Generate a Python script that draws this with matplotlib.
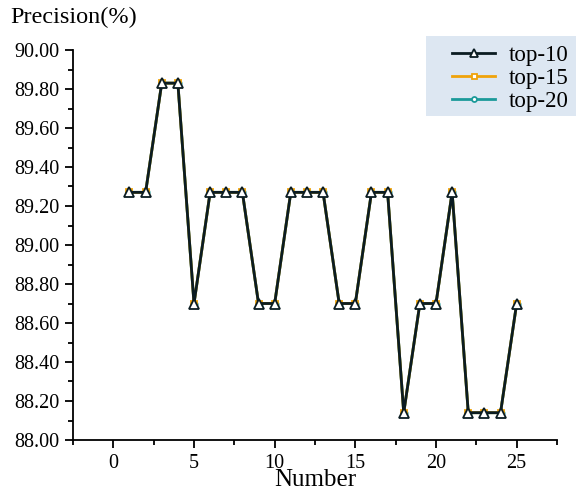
import matplotlib
matplotlib.use('Agg')
import matplotlib.pyplot as plt
from matplotlib.patches import Rectangle
from matplotlib.ticker import MultipleLocator, FormatStrFormatter
import numpy as np

# precision of each run for the three top-k settings
number: list = list(range(1, 26))
top10: list = [89.27, 89.27, 89.83, 89.83, 88.70, 89.27, 89.27, 89.27, 88.70, 88.70,
               89.27, 89.27, 89.27, 88.70, 88.70, 89.27, 89.27, 88.14, 88.70, 88.70,
               89.27, 88.14, 88.14, 88.14, 88.70]
top15: list = list(top10)
top20: list = list(top10)

plt.rcParams['font.family'] = ['Liberation Serif', 'DejaVu Serif']

W: float = 576.0
H: float = 493.0
fig = plt.figure(figsize = (5.76, 4.93), dpi = 100)
ax = fig.add_axes([73 / W, 1 - 440 / H, 484 / W, 390 / H])

ax.plot(number, top10, color = '#0b1c22', lw = 2.0, marker = '^', ms = 7,
        mfc = 'white', mec = '#0b1c22', mew = 1.3, label = 'top-10', zorder = 5)
ax.plot(number, top15, color = '#f0a30a', lw = 2.0, marker = 's', ms = 4.5,
        mfc = 'white', mec = '#f0a30a', mew = 1.3, label = 'top-15', zorder = 4)
ax.plot(number, top20, color = '#1b9a9a', lw = 2.0, marker = 'o', ms = 4.5,
        mfc = 'white', mec = '#1b9a9a', mew = 1.3, label = 'top-20', zorder = 3)

ax.set_xlim(-2.5, 27.5)
ax.set_ylim(88.0, 90.0)
ax.xaxis.set_major_locator(MultipleLocator(5))
ax.xaxis.set_minor_locator(MultipleLocator(2.5))
ax.yaxis.set_major_locator(MultipleLocator(0.2))
ax.yaxis.set_minor_locator(MultipleLocator(0.1))
ax.yaxis.set_major_formatter(FormatStrFormatter('%.2f'))

ax.spines['top'].set_visible(False)
ax.spines['right'].set_visible(False)
for s in ('left', 'bottom'):
    ax.spines[s].set_linewidth(1.3)
ax.tick_params(which = 'major', direction = 'out', length = 6, width = 1.3, labelsize = 14.5, pad = 4)
ax.tick_params(which = 'minor', direction = 'out', length = 3.5, width = 1.3)

ax.set_xlabel('Number', fontsize = 18, labelpad = -2.5)
fig.text(10 / W, 1 - 17 / H, 'Precision(%)', fontsize = 17.5, ha = 'left', va = 'center')

# legend background box, partly cut by the figure edge
fig.patches.append(Rectangle((426 / W, 1 - 116 / H), 160 / W, 80 / H,
                             transform = fig.transFigure, facecolor = '#dde7f2',
                             edgecolor = 'none', zorder = 1))
handles, labels = ax.get_legend_handles_labels()
leg = fig.legend(handles, labels, loc = 'upper left', bbox_to_anchor = (441 / W, 1 - 34 / H),
                 bbox_transform = fig.transFigure, fontsize = 16.5,
                 frameon = False, handlelength = 1.85, markerscale = 0.8,
                 labelspacing = 0.08, borderpad = 0.0, handletextpad = 0.6)
leg.set_zorder(3)

fig.savefig('out.png', dpi = 100)
